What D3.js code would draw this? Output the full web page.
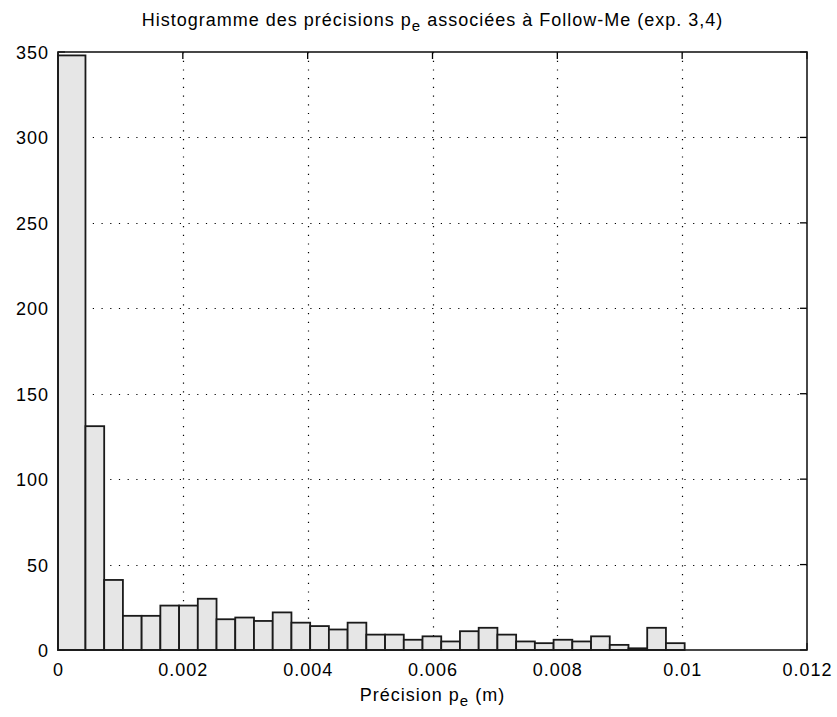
<!DOCTYPE html>
<html>
<head>
<meta charset="utf-8">
<script src="https://cdn.jsdelivr.net/npm/d3@7"></script>
<style>
  html, body { margin: 0; padding: 0; background: #fff; }
  svg { display: block; }
  text { font-family: "Liberation Sans", Arial, sans-serif; fill: #000; }
</style>
</head>
<body>
<svg id="chart" width="837" height="717"></svg>
<script>
// ---- data ----
const binEdges = [0, 0.00044, 0.00074, 0.00104, 0.00134, 0.00164, 0.00194, 0.00224, 0.00254,
  0.00284, 0.00314, 0.00344, 0.00374, 0.00404, 0.00434, 0.00464, 0.00494, 0.00524, 0.00554,
  0.00584, 0.00614, 0.00644, 0.00674, 0.00704, 0.00734, 0.00764, 0.00794, 0.00824, 0.00854,
  0.00884, 0.00914, 0.00944, 0.00974, 0.01004];
const counts = [348, 131, 41, 20, 20, 26, 26, 30, 18, 19, 17, 22, 16, 14, 12, 16, 9, 9, 6, 8,
  5, 11, 13, 9, 5, 4, 6, 5, 8, 3, 1, 13, 4];
const xTicks = [0, 0.002, 0.004, 0.006, 0.008, 0.01, 0.012];
const xTickLabels = ["0", "0.002", "0.004", "0.006", "0.008", "0.01", "0.012"];
const yTicks = [0, 50, 100, 150, 200, 250, 300, 350];
const yTickLabels = ["0", "50", "100", "150", "200", "250", "300", "350"];
const xDomain = [0, 0.012];
const yDomain = [0, 350];

// ---- layout ----
const W = 837, H = 717;
const m = { left: 58, top: 52, right: 30, bottom: 67 };
const svg = d3.select("#chart");
const x = d3.scaleLinear().domain(xDomain).range([m.left, W - m.right]);
const y = d3.scaleLinear().domain(yDomain).range([H - m.bottom, m.top]);
const fs = 18, ls = 1.0;

const bins = counts.map((c, i) => ({ x0: binEdges[i], x1: binEdges[i + 1], n: c }));

// grid (under bars)
const grid = svg.append("g").attr("stroke", "#000").attr("stroke-width", 1.2)
  .attr("stroke-dasharray", "1.2,7.5");
grid.selectAll(".vg").data(xTicks.filter(t => t > xDomain[0] && t < xDomain[1]))
  .join("line").attr("x1", d => Math.round(x(d)) + 0.5).attr("x2", d => Math.round(x(d)) + 0.5)
  .attr("y1", y(yDomain[1])).attr("y2", y(yDomain[0]));
grid.selectAll(".hg").data(yTicks.filter(t => t > yDomain[0] && t < yDomain[1]))
  .join("line").attr("y1", d => Math.round(y(d)) + 0.5).attr("y2", d => Math.round(y(d)) + 0.5)
  .attr("x1", x(xDomain[0])).attr("x2", x(xDomain[1]));

// inner tick marks on all four sides
const tl = 7;
const tk = svg.append("g").attr("stroke", "#000").attr("stroke-width", 1.3);
xTicks.forEach(t => {
  tk.append("line").attr("x1", x(t)).attr("x2", x(t)).attr("y1", y(yDomain[0])).attr("y2", y(yDomain[0]) - tl);
  tk.append("line").attr("x1", x(t)).attr("x2", x(t)).attr("y1", y(yDomain[1])).attr("y2", y(yDomain[1]) + tl);
});
yTicks.forEach(t => {
  tk.append("line").attr("y1", y(t)).attr("y2", y(t)).attr("x1", x(xDomain[0])).attr("x2", x(xDomain[0]) + tl);
  tk.append("line").attr("y1", y(t)).attr("y2", y(t)).attr("x1", x(xDomain[1])).attr("x2", x(xDomain[1]) - tl);
});

// bars
svg.append("g").selectAll("rect").data(bins).join("rect")
  .attr("x", d => x(d.x0)).attr("width", d => x(d.x1) - x(d.x0))
  .attr("y", d => y(d.n)).attr("height", d => y(0) - y(d.n))
  .attr("fill", "#e6e6e6").attr("stroke", "#1a1a1a").attr("stroke-width", 1.8);

// box
svg.append("rect").attr("x", x(xDomain[0])).attr("y", y(yDomain[1]))
  .attr("width", x(xDomain[1]) - x(xDomain[0])).attr("height", y(yDomain[0]) - y(yDomain[1]))
  .attr("fill", "none").attr("stroke", "#1a1a1a").attr("stroke-width", 1.6);

// axis labels via d3 axes (lines hidden, labels kept)
const xAxis = d3.axisBottom(x).tickValues(xTicks).tickFormat((d, i) => xTickLabels[i]).tickSize(0).tickPadding(0);
const gx = svg.append("g").attr("transform", `translate(0,${y(0)})`).call(xAxis);
gx.select(".domain").remove();
gx.selectAll("text").attr("y", 26).attr("dy", null).style("font-size", fs + "px")
  .style("letter-spacing", ls + "px").style("font-family", '"Liberation Sans", Arial, sans-serif').attr("fill", "#000");

const yAxis = d3.axisLeft(y).tickValues(yTicks).tickFormat((d, i) => yTickLabels[i]).tickSize(0).tickPadding(0);
const gy = svg.append("g").attr("transform", `translate(${x(0)},0)`).call(yAxis);
gy.select(".domain").remove();
gy.selectAll("text").attr("x", -9).attr("dy", "0.36em").style("font-size", fs + "px")
  .style("letter-spacing", ls + "px").style("font-family", '"Liberation Sans", Arial, sans-serif').attr("fill", "#000");

// title
const cx = (x(xDomain[0]) + x(xDomain[1])) / 2;
const title = svg.append("text").attr("x", cx).attr("y", 26).attr("text-anchor", "middle")
  .style("font-size", fs + "px").style("letter-spacing", ls + "px");
title.append("tspan").text("Histogramme des précisions p");
title.append("tspan").attr("dy", 5).style("font-size", "15px").text("e");
title.append("tspan").attr("dy", -5).text(" associées à Follow-Me (exp. 3,4)");

// x label
const xl = svg.append("text").attr("x", cx).attr("y", 701).attr("text-anchor", "middle")
  .style("font-size", fs + "px").style("letter-spacing", ls + "px");
xl.append("tspan").text("Précision p");
xl.append("tspan").attr("dy", 5).style("font-size", "15px").text("e");
xl.append("tspan").attr("dy", -5).text(" (m)");
</script>
</body>
</html>
